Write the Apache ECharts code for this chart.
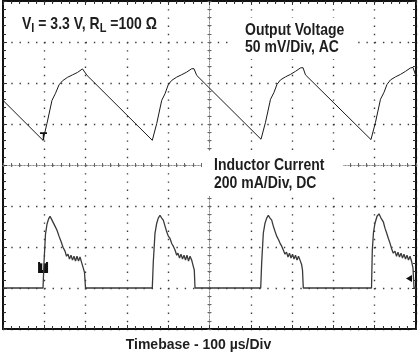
<!DOCTYPE html>
<html>
<head>
<meta charset="utf-8">
<script src="https://cdn.jsdelivr.net/npm/echarts@6/dist/echarts.min.js"></script>
<style>
  html, body { margin: 0; padding: 0; background: #fff; }
  #scope-chart { width: 419px; height: 353px; }
</style>
</head>
<body>
<div id="scope-chart"></div>
<script>
  // screen: 10 div x 100 us, voltage 50 mV/div (AC), current 200 mA/div (DC)
  const timeRange = [0, 1000]
  const voltRange = [-200, 200]
  const currentRange = [-200, 1400]

  // [time us, mV]
  const voltageTrace = [
    [0, 78.8], [96.9, 30.1], [106.5, 50.8], [118.6, 78.8], [127.1, 87.4], [135.6, 97.7], [144.1, 102.7],
    [156.2, 106.9], [168.3, 109.9], [180.4, 112.9], [192.5, 117.2], [197.3, 117.8], [203.4, 109.3],
    [361.5, 30.1], [372.2, 50.5], [384.3, 78.8], [392.3, 87.0], [400.2, 98.0], [408.5, 103.2],
    [420.6, 107.2], [432.7, 110.1], [444.8, 113.3], [456.9, 117.4], [462.5, 117.4], [469.0, 109.3],
    [624.7, 31.4], [635.6, 52.1], [647.7, 80.1], [656.2, 88.6], [663.4, 98.3], [671.9, 103.8],
    [684.0, 107.5], [696.1, 110.5], [708.2, 114.2], [720.3, 118.4], [726.4, 118.7], [732.4, 109.9],
    [891.0, 31.0], [901.9, 52.1], [914.0, 80.1], [922.5, 88.6], [929.8, 98.3], [938.3, 103.8],
    [950.4, 107.5], [962.5, 110.5], [974.6, 114.2], [986.7, 118.4], [992.7, 119.0], [1000, 108.1],
  ]

  // [time us, mA]
  const currentTrace = [
    [0, 0], [96.9, 0], [99.3, 126], [102.9, 263], [106.5, 311], [110.2, 336], [113.8, 350], [117.4, 336],
    [121.1, 331], [125.9, 302], [130.8, 282], [135.6, 253], [140.4, 228], [145.3, 199], [150.1, 180],
    [153.8, 155], [157.4, 165], [161.0, 141], [164.6, 160], [168.3, 136], [171.9, 155], [175.5, 131],
    [179.2, 155], [182.8, 131], [186.4, 151], [190.1, 126], [193.7, 121], [197.3, 77], [199.8, 0],
    [361.5, 0], [363.9, 126], [368.0, 267], [372.2, 316], [376.0, 341], [380.1, 355], [384.3, 341],
    [388.1, 331], [392.3, 302], [396.4, 274], [400.2, 253], [404.4, 242], [408.5, 217], [412.3, 204],
    [416.5, 185], [420.6, 160], [423.7, 170], [427.4, 146], [431.0, 165], [434.6, 141], [438.3, 160],
    [441.9, 136], [445.5, 160], [449.2, 131], [452.8, 155], [456.9, 136], [460.0, 112], [463.2, 87], [464.9, 0],
    [624.0, 0], [626.4, 126], [630.3, 267], [634.4, 316], [638.5, 341], [642.4, 355], [646.5, 341],
    [650.6, 331], [654.5, 302], [658.6, 277], [662.7, 253], [666.6, 238], [670.7, 219], [674.8, 204],
    [678.7, 185], [682.8, 165], [686.4, 175], [690.1, 151], [693.7, 170], [697.3, 146], [701.0, 165],
    [704.6, 141], [708.2, 160], [711.9, 136], [715.5, 155], [719.1, 136], [722.8, 116], [725.2, 87], [727.1, 0],
    [892.3, 0], [894.2, 185], [897.1, 272], [900.7, 316], [905.6, 350], [910.4, 362], [915.2, 341],
    [920.8, 323], [924.9, 292], [929.1, 267], [932.9, 243], [937.0, 219], [941.2, 190], [945.0, 170],
    [949.1, 180], [952.8, 155], [956.4, 175], [960.0, 151], [963.7, 170], [967.3, 146], [970.9, 165],
    [974.6, 141], [978.2, 160], [981.8, 136], [985.5, 155], [989.6, 128], [992.7, 97], [995.2, 0], [1000, 0],
  ]

  // scope markers: trigger on voltage, trigger box + ground arrow on current
  const voltTrigger = [98, 35]
  const currTrigger = [97, 100]
  const currGround = [983, 46]

  const chart = echarts.init(document.getElementById('scope-chart'))

  const frame = { color: '#111', width: 2 }
  const tickColor = '#333'
  const rect = { left: 3, right: 3, top: 1, bottom: 24 }

  function frameAxis(extra) {
    return Object.assign({
      type: 'value',
      gridIndex: 0,
      axisLine: { show: true, onZero: false, lineStyle: frame },
      axisTick: { show: true, inside: true, length: 4, lineStyle: { color: tickColor } },
      minorTick: { show: true, splitNumber: 5, length: 3, lineStyle: { color: tickColor } },
      axisLabel: { show: false },
      splitLine: { show: false },
    }, extra)
  }

  function centerAxis(grid, min, max, inside) {
    return {
      type: 'value',
      gridIndex: grid,
      min: min,
      max: max,
      interval: 1,
      axisLine: { show: true, onZero: true, lineStyle: { color: '#888', width: 1, type: [1, 2] } },
      axisTick: { show: true, inside: inside, length: 2, lineStyle: { color: '#666' } },
      minorTick: { show: true, splitNumber: 5, length: 2, lineStyle: { color: '#666' } },
      axisLabel: { show: false },
      splitLine: { show: false },
    }
  }

  const labelFont = '"Liberation Sans", Arial, sans-serif'
  const ink = '#1e1e1e'

  function label(x, y, text) {
    return {
      type: 'text', x: x, y: y, z: 101, scaleY: 1.12,
      style: { text: text, font: 'bold 14px ' + labelFont, fill: ink, verticalAlign: 'middle' },
    }
  }

  const dotted = (gap) => ({ show: true, lineStyle: { color: '#3c3c3c', width: 1.4, type: [1.4, gap] } })

  const option = {
    animation: false,
    grid: [rect, rect, rect],
    xAxis: [
      frameAxis({
        min: timeRange[0], max: timeRange[1], interval: 100, position: 'bottom',
        splitLine: dotted(6.8),
      }),
      frameAxis({ min: timeRange[0], max: timeRange[1], interval: 100, position: 'top' }),
      centerAxis(1, -5, 5, true),
      centerAxis(2, -5, 5, false),
    ],
    yAxis: [
      frameAxis({
        min: voltRange[0], max: voltRange[1], interval: 50, position: 'left',
        splitLine: dotted(6.86),
      }),
      frameAxis({ min: currentRange[0], max: currentRange[1], interval: 200, position: 'right' }),
      centerAxis(1, -4, 4, true),
      centerAxis(2, -4, 4, false),
    ],
    series: [
      {
        name: 'Output Voltage',
        type: 'line',
        xAxisIndex: 0,
        yAxisIndex: 0,
        data: voltageTrace,
        showSymbol: false,
        lineStyle: { color: '#1a1a1a', width: 1 },
        z: 5,
        markPoint: {
          animation: false,
          label: { show: false },
          data: [{
            coord: voltTrigger,
            symbol: 'path://M0,0 L10,0 L10,2.5 L6,2.5 L6,12 L4,12 L4,2.5 L0,2.5 Z',
            symbolSize: [7, 8],
            itemStyle: { color: '#111' },
          }],
        },
      },
      {
        name: 'Inductor Current',
        type: 'line',
        xAxisIndex: 0,
        yAxisIndex: 1,
        data: currentTrace,
        showSymbol: false,
        lineStyle: { color: '#3a3a3a', width: 1.3 },
        z: 5,
        markPoint: {
          animation: false,
          data: [
            {
              coord: currTrigger,
              symbol: 'rect',
              symbolSize: [10, 11],
              itemStyle: { color: '#111' },
              label: { show: true, formatter: 'T', color: '#fff', fontSize: 10, fontWeight: 'bold', position: 'inside' },
            },
            {
              coord: currGround,
              symbol: 'triangle',
              symbolRotate: 90,
              symbolSize: [7, 6],
              itemStyle: { color: '#111' },
              label: { show: false },
            },
          ],
        },
      },
    ],
    graphic: [
      { type: 'rect', z: 100, shape: { x: 10, y: 5, width: 150, height: 33 }, style: { fill: '#fff' } },
      { type: 'rect', z: 100, shape: { x: 230, y: 18, width: 128, height: 41 }, style: { fill: '#fff' } },
      { type: 'rect', z: 100, shape: { x: 202, y: 151, width: 141, height: 45 }, style: { fill: '#fff' } },
      {
        type: 'text', x: 22, y: 25, z: 101, scaleY: 1.12,
        style: {
          text: '{b|V}{s|I}{b| = 3.3 V, R}{s|L}{b| =100 Ω}',
          verticalAlign: 'middle',
          rich: {
            b: { font: 'bold 14px ' + labelFont, fill: ink, lineHeight: 18 },
            s: { font: 'bold 11px ' + labelFont, fill: ink, lineHeight: 12, verticalAlign: 'bottom' },
          },
        },
      },
      label(245, 30.5, 'Output Voltage'),
      label(245, 47.5, '50 mV/Div, AC'),
      label(214, 165.7, 'Inductor Current'),
      label(214, 183.3, '200 mA/Div, DC'),
      {
        type: 'text', x: 198.5, y: 345.5, z: 101,
        style: { text: 'Timebase - 100 µs/Div', font: 'bold 14px ' + labelFont, fill: ink, align: 'center', verticalAlign: 'middle' },
      },
    ],
  }

  chart.setOption(option)
</script>
</body>
</html>
